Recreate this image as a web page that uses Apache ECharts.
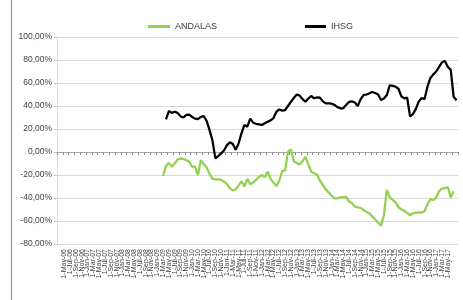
<!DOCTYPE html>
<html><head><meta charset="utf-8">
<script src="https://cdn.jsdelivr.net/npm/echarts@6/dist/echarts.min.js"></script>
<style>html,body{margin:0;padding:0;background:#fff}#c{width:463px;height:300px}</style>
</head><body><div id="c"></div>
<script>
// Categories: monthly, Mar-2006 .. Aug-2017
var monthNames = ['Jan','Feb','Mar','Apr','May','Jun','Jul','Aug','Sep','Oct','Nov','Dec'];
var categories = [];
(function(){ var m = 2, y = 6; for (var k = 0; k < 138; k++) { categories.push('1-' + monthNames[m] + '-' + (y < 10 ? '0' + y : '' + y)); m++; if (m > 11) { m = 0; y++; } } })();

var yTicks = [-80, -60, -40, -20, 0, 20, 40, 60, 80, 100];

var seriesNames = ['ANDALAS', 'IHSG'];

// ANDALAS values (%), starting at category index 36
var andalasStart = 36;
var andalas = [-20.9, -12, -9.5, -12.8, -10, -6.5, -5.5, -6.2, -7, -8.5, -12.8, -12.8, -20, -7, -10.5, -13.5, -19, -23.3, -23.7, -23.8,
  -24.3, -25.8, -28, -31.5, -33.5, -32.5, -29, -25.5, -30, -23.3, -28, -26.5, -24.3, -21.5, -20, -22, -17.1, -23.5, -26.5, -29.5,
  -25, -16.5, -16, 0.3, 2.3, -8, -9.5, -10.8, -8, -4.2, -11, -17.2, -18.5, -19.7, -25, -28.7, -32.5, -35.3, -38, -40.3,
  -40.3, -39.5, -39.2, -39, -43, -44.3, -47.5, -48.2, -48.5, -50.4, -52.1, -53.3, -56, -58.5, -61.5, -64, -55, -33, -39.5, -41.7,
  -43.8, -48, -50, -51.2, -53, -55, -53.3, -52.8, -52.8, -52.6, -51.5, -45.5, -40.8, -42, -39.5, -34, -31.6, -31.6, -30.5, -39.5,
  -34];

// IHSG values (%), starting at category index 37
var ihsgStart = 37;
var ihsg = [28.4, 35.6, 34, 35, 34, 31, 30, 32.3, 32.5, 30.5, 29, 28.5, 30.5, 31.3, 27, 19, 10, -5.5, -3.5, -1.2,
  1.5, 6, 8.5, 7, 2, 7.5, 16.5, 23.5, 22, 29, 25.5, 24.5, 24, 23.5, 25, 26.3, 27.5, 29.5, 35, 37,
  36, 36.5, 40, 43.7, 47, 50, 49, 46, 43.7, 46.5, 48.7, 46.7, 47.5, 47.2, 44, 42.3, 42.3, 42, 41, 39,
  38, 38, 41, 43.5, 44, 43, 40, 46, 49.5, 50, 51, 52.2, 51.3, 50, 45.2, 46.5, 49.5, 58, 57.5, 56.8,
  55, 48.5, 46.7, 47.2, 31, 33, 37.5, 44, 47, 46, 57, 64.3, 67.5, 70, 74, 78, 79.2, 74, 71.5, 48,
  45];

function place(start, vals) {
  var out = [];
  for (var i = 0; i < categories.length; i++) {
    var j = i - start;
    out.push(j >= 0 && j < vals.length ? vals[j] : null);
  }
  return out;
}

var chart = echarts.init(document.getElementById('c'), null, {renderer: 'canvas'});
var font = '"Liberation Sans", "DejaVu Sans", sans-serif';
chart.setOption({
  animation: false,
  backgroundColor: '#fff',
  textStyle: {fontFamily: font},
  graphic: [{type: 'line', shape: {x1: 11.5, y1: 0, x2: 11.5, y2: 300}, style: {stroke: '#8c8c8c', lineWidth: 1}}],
  legend: [
    {left: 143, top: 17, data: [seriesNames[0]], icon: 'rect', itemWidth: 22, itemHeight: 3,
     textStyle: {fontSize: 9, color: '#404040', fontFamily: font}},
    {left: 300, top: 17, data: [seriesNames[1]], icon: 'rect', itemWidth: 21, itemHeight: 3,
     textStyle: {fontSize: 9, color: '#404040', fontFamily: font}}
  ],
  grid: {left: 57, right: 5, top: 37, bottom: 56},
  xAxis: [
    {type: 'category', data: categories, position: 'bottom', boundaryGap: true,
     axisLine: {show: false, onZero: false}, axisTick: {show: false},
     axisLabel: {interval: 1, rotate: 90, fontSize: 7, color: '#404040', margin: 5, fontFamily: font},
     splitLine: {show: false}},
    {type: 'category', data: categories, position: 'bottom', boundaryGap: true,
     axisLine: {show: true, onZero: true, lineStyle: {color: '#a6a6a6', width: 1}},
     axisTick: {show: true, interval: 1, length: 3, lineStyle: {color: '#8c8c8c'}},
     axisLabel: {show: false}, splitLine: {show: false}}
  ],
  yAxis: {type: 'value', min: yTicks[0], max: yTicks[yTicks.length - 1], interval: 20,
    axisLine: {show: true, lineStyle: {color: '#d9d9d9'}},
    axisTick: {show: true, length: 3, lineStyle: {color: '#bfbfbf'}},
    axisLabel: {fontSize: 8.5, color: '#404040', margin: 5, fontFamily: font,
      formatter: function (v) { return v.toFixed(2).replace('.', ',') + '%'; }},
    splitLine: {show: true, lineStyle: {color: '#d9d9d9', width: 1}}
  },
  series: [
    {name: seriesNames[0], type: 'line', xAxisIndex: 0, data: place(andalasStart, andalas), symbol: 'none',
     connectNulls: false, lineStyle: {color: '#92d050', width: 2.25}, itemStyle: {color: '#92d050'}},
    {name: seriesNames[1], type: 'line', xAxisIndex: 0, data: place(ihsgStart, ihsg), symbol: 'none',
     connectNulls: false, lineStyle: {color: '#000000', width: 2.25}, itemStyle: {color: '#000000'}}
  ]
});
</script></body></html>
